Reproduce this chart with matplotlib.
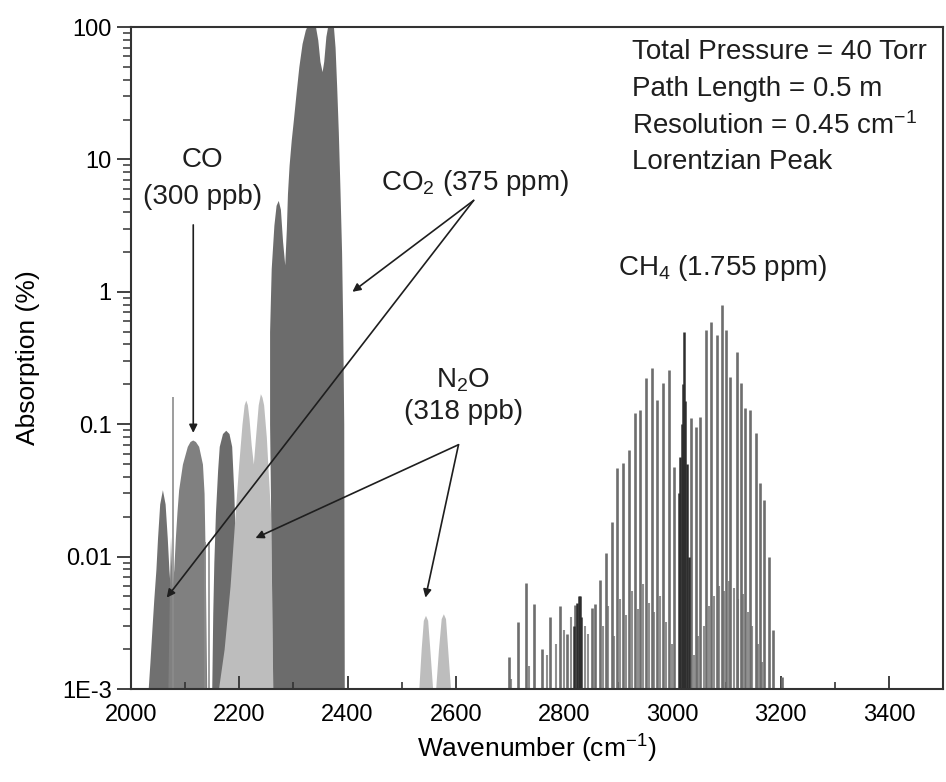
"""Simulated IR absorption of ambient air, 2000-3500 cm-1 (log scale)."""

import matplotlib
matplotlib.use("Agg")
import matplotlib.pyplot as plt
from matplotlib.ticker import LogLocator, MultipleLocator, NullFormatter

plt.rcParams["font.family"] = ["Liberation Sans", "DejaVu Sans"]
plt.rcParams["mathtext.fontset"] = "custom"
plt.rcParams["mathtext.rm"] = "Liberation Sans"
plt.rcParams["mathtext.default"] = "regular"

FLOOR = 9e-4  # just below the axis bottom, fills start here

# --- band envelopes (wavenumber cm-1, absorption %)
CO2_HOT_NU = [2031, 2035, 2039, 2042, 2046, 2049, 2053, 2058, 2063, 2067, 2070, 2074, 2079, 2088]
CO2_HOT_ABS = [FLOOR, 0.0016, 0.003, 0.0047, 0.008, 0.0138, 0.025, 0.032, 0.025,
               0.0138, 0.008, 0.0047, 0.002, FLOOR]

CO_NU = [2068, 2071, 2073, 2076, 2079, 2082, 2085, 2088, 2095, 2104, 2109, 2114,
         2119, 2125, 2132, 2135, 2137, 2140]
CO_ABS = [FLOOR, 0.006, 0.0142, 0.006, 0.008, 0.014, 0.022, 0.032, 0.05, 0.068,
          0.074, 0.076, 0.074, 0.068, 0.05, 0.03, 0.01, FLOOR]

CO2_ISO_NU = [2149, 2151, 2153, 2156, 2160, 2163, 2169, 2175, 2181, 2186, 2190, 2194, 2197]
CO2_ISO_ABS = [FLOOR, 0.0037, 0.009, 0.0215, 0.045, 0.068, 0.085, 0.09, 0.085,
               0.068, 0.03, 0.008, FLOOR]

N2O_NU = [2160, 2172, 2183, 2192, 2199, 2205, 2209, 2212, 2215, 2218, 2222, 2226,
          2230, 2235, 2239, 2242, 2245, 2250, 2258, 2262]
N2O_ABS = [FLOOR, 0.002, 0.006, 0.02, 0.05, 0.1, 0.14, 0.152, 0.14, 0.11, 0.07,
           0.05, 0.08, 0.14, 0.17, 0.16, 0.14, 0.08, 0.02, FLOOR]

CO2_NU = [2262, 2259, 2256, 2256, 2259, 2264, 2268, 2272, 2276, 2280, 2284, 2287,
          2289, 2292, 2296, 2300, 2305, 2310, 2316, 2322, 2328, 2334, 2340, 2345,
          2349, 2353, 2356, 2360, 2364, 2369, 2374, 2377, 2380, 2383, 2386, 2389,
          2391, 2393, 2394]
CO2_ABS = [FLOOR, 0.01, 0.1, 0.5, 1.5, 3.2, 4.5, 4.9, 4.2, 2.4, 1.6, 3.0,
           5.5, 9, 14, 20, 32, 50, 75, 95, 108, 112, 105, 80,
           55, 46, 55, 85, 105, 112, 100, 70, 35, 16, 6, 2,
           0.6, 0.1, FLOOR]

N2O_B_NU = [2531, 2536, 2540, 2544, 2548, 2552, 2558, 2562, 2568, 2573, 2577, 2581, 2585, 2591]
N2O_B_ABS = [FLOOR, 0.002, 0.0033, 0.0036, 0.0033, 0.002, FLOOR,
             FLOOR, 0.002, 0.0034, 0.0037, 0.0034, 0.002, FLOOR]

# single lines standing out of the CO region
THIN_NU = [2077, 2136, 2145]
THIN_ABS = [0.16, 0.013, 0.013]

# --- CH4 stick spectrum
CH4_NU = [2698, 2715, 2729, 2744, 2760, 2774, 2793, 2806, 2821, 2852, 2858, 2867,
          2877, 2888, 2898, 2909, 2920, 2931, 2941, 2952, 2963, 2972, 2982, 2994,
          3004, 3035, 3043, 3052, 3063, 3072, 3082, 3091, 3100, 3107, 3119, 3126,
          3135, 3143, 3154, 3162, 3170, 3178, 3186, 3203]
CH4_ABS = [0.00175, 0.0032, 0.0063, 0.0044, 0.0020, 0.0035, 0.0042, 0.0026, 0.0043,
           0.0041, 0.0044, 0.0067, 0.0106, 0.0184, 0.0465, 0.0507, 0.0638, 0.121,
           0.128, 0.222, 0.264, 0.152, 0.204, 0.257, 0.0478, 0.111, 0.0957, 0.114,
           0.514, 0.594, 0.472, 0.795, 0.514, 0.229, 0.353, 0.204, 0.132, 0.128,
           0.0853, 0.0358, 0.0268, 0.00998, 0.00279, 0.00124]

CH4_Q_NU = [2818, 2824, 2827, 2829, 2832, 3012, 3015, 3018, 3020, 3022, 3024, 3027, 3030]
CH4_Q_ABS = [0.0030, 0.0045, 0.0050, 0.0050, 0.0035, 0.03, 0.057, 0.1, 0.2, 0.50,
             0.15, 0.05, 0.01]

CH4_WEAK_NU = [2702, 2736, 2768, 2786, 2800, 2813, 2838, 2845, 2872, 2882, 2893,
               2903, 2914, 2925, 2936, 2946, 2957, 2967, 2977, 2988, 2999, 3040,
               3048, 3058, 3068, 3077, 3087, 3096, 3104, 3113, 3122, 3131, 3139,
               3148, 3158, 3166]
CH4_WEAK_ABS = [0.0012, 0.0015, 0.0018, 0.0022, 0.0028, 0.0035, 0.0030, 0.0026,
                0.0030, 0.0042, 0.0025, 0.0048, 0.0036, 0.0055, 0.0040, 0.0062,
                0.0045, 0.0038, 0.0050, 0.0032, 0.0022, 0.0018, 0.0025, 0.0030,
                0.0042, 0.0050, 0.0060, 0.0055, 0.0065, 0.0058, 0.0048, 0.0052,
                0.0038, 0.0030, 0.0022, 0.0016]

X_TICKS = [2000, 2200, 2400, 2600, 2800, 3000, 3200, 3400]
Y_TICKS = [1e-3, 1e-2, 0.1, 1, 10, 100]
Y_TICK_LABELS = ["1E-3", "0.01", "0.1", "1", "10", "100"]

INFO_LINES = ["Total Pressure = 40 Torr",
              "Path Length = 0.5 m",
              "Resolution = 0.45 cm$^{-1}$",
              "Lorentzian Peak"]

DARK = "#6c6c6c"
MID = "#808080"
LIGHT = "#bdbdbd"
INK = "#1e1e1e"

fig = plt.figure(figsize=(9.46, 7.82), dpi=100)
ax = fig.add_axes([131 / 946, 1 - 689 / 782, 812 / 946, 662 / 782])

# filled bands (order = layering)
ax.fill_between(CO2_HOT_NU, FLOOR, CO2_HOT_ABS, color="#707070", lw=0)
ax.fill_between(CO_NU, FLOOR, CO_ABS, color=MID, lw=0)
ax.vlines(THIN_NU, FLOOR, THIN_ABS, color="#8c8c8c", lw=1.2)
ax.fill_between(CO2_ISO_NU, FLOOR, CO2_ISO_ABS, color=DARK, lw=0)
ax.fill_between(N2O_NU, FLOOR, N2O_ABS, color=LIGHT, lw=0)
ax.fill_between(CO2_NU, FLOOR, CO2_ABS, color=DARK, lw=0)
ax.fill_between(N2O_B_NU, FLOOR, N2O_B_ABS, color=LIGHT, lw=0)

# CH4 sticks
ax.vlines(CH4_WEAK_NU, FLOOR, CH4_WEAK_ABS, color="#909090", lw=1.5)
ax.vlines(CH4_NU, FLOOR, CH4_ABS, color="#6e6e6e", lw=1.9)
ax.vlines(CH4_Q_NU, FLOOR, CH4_Q_ABS, color="#2e2e2e", lw=1.8)

ax.set_xlim(2000, 3500)
ax.set_yscale("log")
ax.set_ylim(1e-3, 100)

ax.set_xticks(X_TICKS)
ax.xaxis.set_minor_locator(MultipleLocator(100))
ax.set_yticks(Y_TICKS, Y_TICK_LABELS)
ax.yaxis.set_minor_locator(LogLocator(base=10, subs=range(2, 10)))
ax.yaxis.set_minor_formatter(NullFormatter())

ax.tick_params(axis="x", which="major", direction="in", length=9.5, width=1.3,
               labelsize=17, pad=11, color="#333333")
ax.tick_params(axis="x", which="minor", direction="in", length=5, width=1.2,
               color="#333333")
ax.tick_params(axis="y", which="major", direction="out", length=10, width=1.3,
               labelsize=17, pad=4, color="#333333")
ax.tick_params(axis="y", which="minor", direction="out", length=5.5, width=1.1,
               color="#333333")
for sp in ax.spines.values():
    sp.set_linewidth(1.5)
    sp.set_color("#333333")

ax.set_xlabel("Wavenumber (cm$^{-1}$)", fontsize=19)
ax.set_ylabel("Absorption (%)", fontsize=19)
ax.xaxis.set_label_coords(0.5, -0.066)
ax.yaxis.set_label_coords(-0.112, 0.5)

# labels + arrows
arrow = dict(arrowstyle="-|>", color=INK, lw=1.2, mutation_scale=12,
             shrinkA=0, shrinkB=0)

ax.text(2132, 9.9, "CO", ha="center", va="center", fontsize=20, color=INK)
ax.text(2132, 5.2, "(300 ppb)", ha="center", va="center", fontsize=20, color=INK)
ax.annotate("", xy=(2115, 0.086), xytext=(2115, 3.2), arrowprops=arrow)

ax.text(2636, 6.6, "CO$_2$ (375 ppm)", ha="center", va="center", fontsize=20, color=INK)
ax.annotate("", xy=(2409, 1.0), xytext=(2633, 4.9), arrowprops=arrow)
ax.annotate("", xy=(2066, 0.0049), xytext=(2633, 4.9), arrowprops=arrow)

ax.text(2614, 0.216, "N$_2$O", ha="center", va="center", fontsize=20, color=INK)
ax.text(2614, 0.124, "(318 ppb)", ha="center", va="center", fontsize=20, color=INK)
ax.annotate("", xy=(2230, 0.0138), xytext=(2605, 0.07), arrowprops=arrow)
ax.annotate("", xy=(2544, 0.0049), xytext=(2605, 0.07), arrowprops=arrow)

ax.text(3093, 1.51, "CH$_4$ (1.755 ppm)", ha="center", va="center", fontsize=20,
        color=INK)

for i, line in enumerate(INFO_LINES):
    ax.text(0.617, 0.962 - i * 0.0555, line, transform=ax.transAxes,
            ha="left", va="center", fontsize=20, color=INK)

fig.savefig("out.png", dpi=100)
